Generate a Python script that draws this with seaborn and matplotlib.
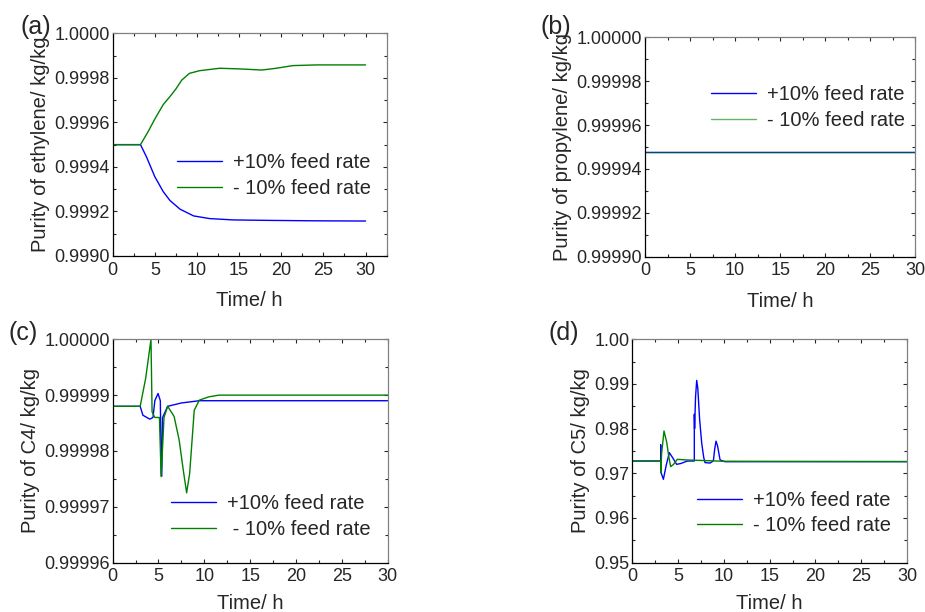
import numpy as np
import pandas as pd
import matplotlib
matplotlib.use("Agg")
import matplotlib.pyplot as plt
from matplotlib.ticker import MultipleLocator, FormatStrFormatter
import seaborn as sns

# ---- data (time in h, purity in kg/kg) ----
t_a_up = [0, 3.3, 4.0, 5.0, 6.0, 6.8, 8.0, 9.6, 11.5, 14.3, 18.3, 24, 30]
y_a_up = [0.99950, 0.99950, 0.999446, 0.999356, 0.999289, 0.999249, 0.999210,
          0.999180, 0.999168, 0.999162, 0.999160, 0.999158, 0.999157]
t_a_dn = [0, 3.3, 4.2, 5.0, 6.0, 6.8, 7.5, 8.2, 9.1, 10.3, 12.7, 15.1, 17.7,
          19.4, 21.4, 24.2, 30]
y_a_dn = [0.99950, 0.99950, 0.999558, 0.999615, 0.99968, 0.999716, 0.99975,
          0.99979, 0.99982, 0.999832, 0.999843, 0.99984, 0.999835, 0.999843,
          0.999855, 0.999858, 0.999858]

t_b_up = [0, 30]
y_b_up = [0.9999478, 0.9999478]
t_b_dn = [0, 30]
y_b_dn = [0.9999478, 0.9999478]

t_c_up = [0, 3.0, 3.3, 4.05, 4.4, 4.6, 4.95, 5.2, 5.3, 5.35, 5.45, 6.0, 7.5,
          9.45, 12, 30]
y_c_up = [0.999988, 0.999988, 0.9999864, 0.9999857, 0.999986, 0.999989,
          0.9999903, 0.999989, 0.9999757, 0.9999755, 0.999986, 0.999988,
          0.9999886, 0.999989, 0.999989, 0.999989]
t_c_dn = [0, 3.0, 3.6, 4.18, 4.3, 4.6, 5.1, 5.29, 5.6, 6.0, 6.7, 7.25, 7.7,
          8.07, 8.4, 8.9, 9.45, 10.5, 11.6, 30]
y_c_dn = [0.999988, 0.999988, 0.999993, 1.00000, 0.999987, 0.999986, 0.999986,
          0.9999754, 0.999986, 0.999988, 0.9999862, 0.999982, 0.9999766,
          0.9999725, 0.999976, 0.9999873, 0.9999891, 0.9999897, 0.99999, 0.99999]

t_d_up = [0, 3.1, 3.1, 3.1, 3.39, 3.7, 4.04, 4.4, 4.84, 5.3, 6.0, 6.77, 6.77,
          6.8, 6.9, 7.03, 7.15, 7.35, 7.58, 7.8, 7.94, 8.49, 8.85, 9.0, 9.14,
          9.3, 9.58, 10.1, 30]
y_d_up = [0.97276, 0.97276, 0.97634, 0.97037, 0.96866, 0.9718, 0.97463, 0.9735,
          0.97201, 0.9722, 0.97275, 0.97276, 0.98321, 0.9800, 0.9870, 0.9908,
          0.9890, 0.9820, 0.9767, 0.9735, 0.9724, 0.9723, 0.9728, 0.9755,
          0.9772, 0.9762, 0.9730, 0.9726, 0.97262]
t_d_dn = [0, 3.1, 3.1, 3.2, 3.46, 3.75, 4.0, 4.19, 4.5, 4.91, 5.93, 10, 30]
y_d_dn = [0.97276, 0.97276, 0.97015, 0.9745, 0.97948, 0.9770, 0.9735, 0.97149,
          0.9720, 0.97313, 0.97299, 0.9727, 0.97262]

lab_up = "+10% feed rate"
lab_dn = "- 10% feed rate"

sns.set_style("ticks")
plt.rcParams['font.family'] = ['Liberation Sans', 'DejaVu Sans']

BLUE = '#0000FF'
GREEN = '#008000'

fig = plt.figure(figsize=(9.25, 6.12), dpi=100)

panels = [
    # letter, rect, t_up, y_up, t_dn, y_dn, ylabel, ylim, ystep, fmt, xmax,
    # legend anchor, letter pos, down label, xlabel pad
    ("(a)", [0.1218, 0.5817, 0.2962, 0.3639], t_a_up, y_a_up, t_a_dn, y_a_dn,
     "Purity of ethylene/ kg/kg", (0.9990, 1.0000), 0.0002, "%.4f", 32.5,
     (0.235, 0.462), (20 / 925, 1 - 27 / 612), lab_dn, 9),
    ("(b)", [0.6973, 0.5806, 0.2922, 0.3585], t_b_up, y_b_up, t_b_dn, y_b_dn,
     "Purity of propylene/ kg/kg", (0.99990, 1.00000), 0.00002, "%.5f", 30,
     (0.243, 0.781), (540 / 925, 1 - 27 / 612), lab_dn, 9),
    ("(c)", [0.1218, 0.0806, 0.2973, 0.3650], t_c_up, y_c_up, t_c_dn, y_c_dn,
     "Purity of C4/ kg/kg", (0.99996, 1.00000), 0.00001, "%.5f", 30,
     (0.211, 0.306), (9 / 925, 1 - 333 / 612), " " + lab_dn, 6),
    ("(d)", [0.6836, 0.0806, 0.2970, 0.3650], t_d_up, y_d_up, t_d_dn, y_d_dn,
     "Purity of C5/ kg/kg", (0.95, 1.00), 0.01, "%.2f", 30,
     (0.2355, 0.321), (548 / 925, 1 - 333 / 612), lab_dn, 6),
]

for (letter, rect, tu, yu, td, yd, ylab, ylim, ystep, fmt, xmax,
     leg_anchor, let_pos, dn_label, xpad) in panels:
    ax = fig.add_axes(rect)
    df = pd.concat([
        pd.DataFrame({'t': tu, 'y': yu, 'case': lab_up}),
        pd.DataFrame({'t': td, 'y': yd, 'case': dn_label}),
    ])
    sns.lineplot(data=df[df['case'] == lab_up], x='t', y='y', ax=ax,
                 color=BLUE, lw=1.0, estimator=None, sort=False, label=lab_up)
    alpha_dn = 0.6 if letter == "(b)" else 1.0
    sns.lineplot(data=df[df['case'] == dn_label], x='t', y='y', ax=ax,
                 color=GREEN, lw=1.0, estimator=None, sort=False,
                 label=dn_label, alpha=alpha_dn)

    ax.set_xlim(0, xmax)
    ax.set_ylim(*ylim)
    ax.xaxis.set_major_locator(MultipleLocator(5))
    ax.xaxis.set_minor_locator(MultipleLocator(2.5))
    ax.yaxis.set_major_locator(MultipleLocator(ystep))
    ax.yaxis.set_minor_locator(MultipleLocator(ystep / 2))
    ax.yaxis.set_major_formatter(FormatStrFormatter(fmt))
    ax.set_xticks([0, 5, 10, 15, 20, 25, 30])

    ax.tick_params(which='both', direction='in', top=True, right=True,
                   width=0.8, labelsize=13, pad=2)
    ax.tick_params(axis='x', which='both', pad=4)
    ax.tick_params(which='major', length=3)
    ax.tick_params(which='minor', length=2.5)
    for s in ['left', 'bottom']:
        ax.spines[s].set_color('black')
        ax.spines[s].set_linewidth(0.9)
    for s in ['top', 'right']:
        ax.spines[s].set_color('#808080')
        ax.spines[s].set_linewidth(0.9)

    ax.set_xlabel("Time/ h", fontsize=14.5, labelpad=xpad)
    ax.set_ylabel(ylab, fontsize=14.5, labelpad=3)

    leg = ax.legend(loc='upper left', bbox_to_anchor=leg_anchor, frameon=False,
                    fontsize=14.5, handlelength=2.25, handletextpad=0.55,
                    labelspacing=0.32, borderpad=0, borderaxespad=0)
    fig.text(let_pos[0], let_pos[1], letter, fontsize=18, ha='left', va='center')

fig.savefig("out.png", dpi=100)
